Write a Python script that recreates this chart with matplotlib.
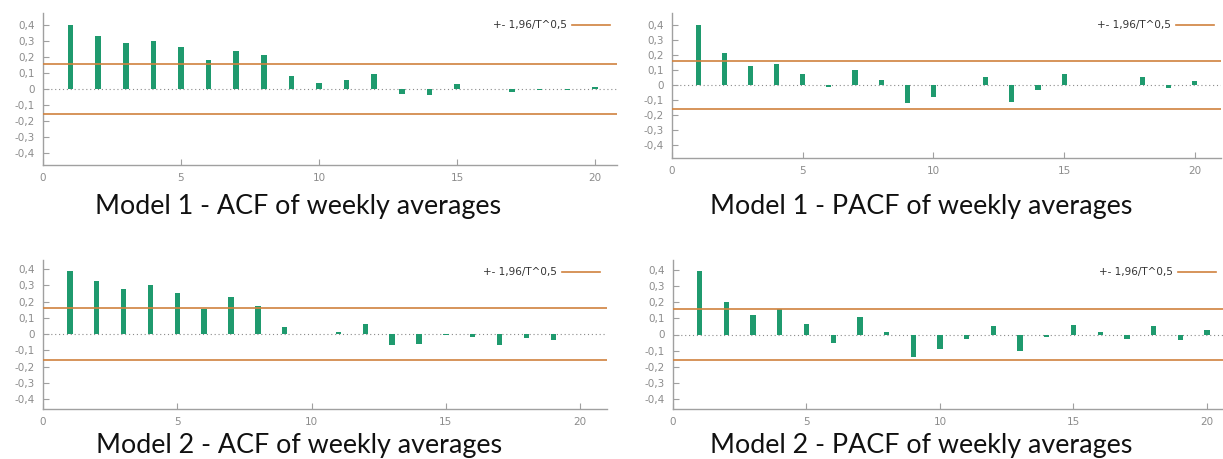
import matplotlib
matplotlib.use('Agg')
import matplotlib.pyplot as plt
from matplotlib.ticker import FuncFormatter

lags = list(range(1, 21))

m1_acf = [0.40, 0.33, 0.285, 0.30, 0.26, 0.18, 0.235, 0.21, 0.08, 0.035,
          0.055, 0.095, -0.03, -0.04, 0.03, 0.0, -0.02, -0.005, -0.005, 0.01]
m1_pacf = [0.40, 0.21, 0.125, 0.14, 0.075, -0.012, 0.10, 0.035, -0.12, -0.08,
           -0.003, 0.05, -0.115, -0.035, 0.075, 0.0, -0.003, 0.05, -0.02, 0.025]
m2_acf = [0.385, 0.325, 0.275, 0.30, 0.25, 0.155, 0.225, 0.175, 0.045, -0.002,
          0.01, 0.065, -0.065, -0.06, -0.003, -0.015, -0.065, -0.025, -0.035, 0.0]
m2_pacf = [0.39, 0.20, 0.12, 0.155, 0.065, -0.05, 0.11, 0.015, -0.14, -0.09,
           -0.025, 0.055, -0.10, -0.015, 0.06, 0.015, -0.025, 0.055, -0.035, 0.03]

bound = 0.158
legend_label = "+- 1,96/T^0,5"
titles = ["Model 1 - ACF of weekly averages", "Model 1 - PACF of weekly averages",
          "Model 2 - ACF of weekly averages", "Model 2 - PACF of weekly averages"]
yticks = [-0.4, -0.3, -0.2, -0.1, 0.0, 0.1, 0.2, 0.3, 0.4]
xticks = [0, 5, 10, 15, 20]

W, H = 1223, 459
fig = plt.figure(figsize=(W / 100, H / 100), dpi=100)
fig.patch.set_facecolor('white')


def px_axes(l, t, r, b):
    return fig.add_axes([l / W, 1 - b / H, (r - l) / W, (b - t) / H])


def fmt(v, pos):
    if abs(v) < 1e-9:
        return "0"
    return ("%.1f" % v).replace(".", ",")


BAR = '#1f9a6e'
ORANGE = '#d0823e'
AX = '#a0a0a0'

panels = [
    (m1_acf, (43, 13, 617, 165), (0, 20.8), (-0.472, 0.472), titles[0], (298, 214), 19.4),
    (m1_pacf, (672, 13, 1221, 158), (0, 21.0), (-0.487, 0.48), titles[1], (921, 214), 19.4),
    (m2_acf, (43, 260, 607, 409), (0, 21.0), (-0.46, 0.455), titles[2], (299, 453), 19.4),
    (m2_pacf, (673, 260, 1223, 409), (0, 20.6), (-0.46, 0.46), titles[3], (921, 453), 19.4),
]

for vals, box, xl, yl, title, tpos, tfs in panels:
    ax = px_axes(*box)
    ax.bar(lags, vals, width=0.2, color=BAR, zorder=2)
    ax.axhline(0, color='#8a8a8a', lw=0.8, ls=(0, (1, 2.5)), zorder=1)
    ax.axhline(bound, color=ORANGE, lw=1.2, zorder=3, label=legend_label)
    ax.axhline(-bound, color=ORANGE, lw=1.2, zorder=3)
    ax.set_xlim(*xl)
    ax.set_ylim(*yl)
    ax.set_yticks(yticks)
    ax.set_xticks(xticks)
    ax.yaxis.set_major_formatter(FuncFormatter(fmt))
    for s in ['top', 'right']:
        ax.spines[s].set_visible(False)
    for s in ['left', 'bottom']:
        ax.spines[s].set_color(AX)
        ax.spines[s].set_linewidth(1.0)
    ax.tick_params(direction='in', length=4, color=AX, labelcolor='#8c8c8c',
                   labelsize=7.5, pad=6)
    leg = ax.legend(loc='upper right', frameon=False, fontsize=7.5, markerfirst=False,
                    handlelength=3.6, handletextpad=0.5, borderaxespad=0.3)
    for t in leg.get_texts():
        t.set_color('#333333')
    fig.text(tpos[0] / W, 1 - tpos[1] / H, title, ha='center', va='baseline',
             fontsize=tfs, family=['Lato', 'DejaVu Sans'], color='#111111')

fig.savefig('out.png', dpi=100, facecolor='white')
